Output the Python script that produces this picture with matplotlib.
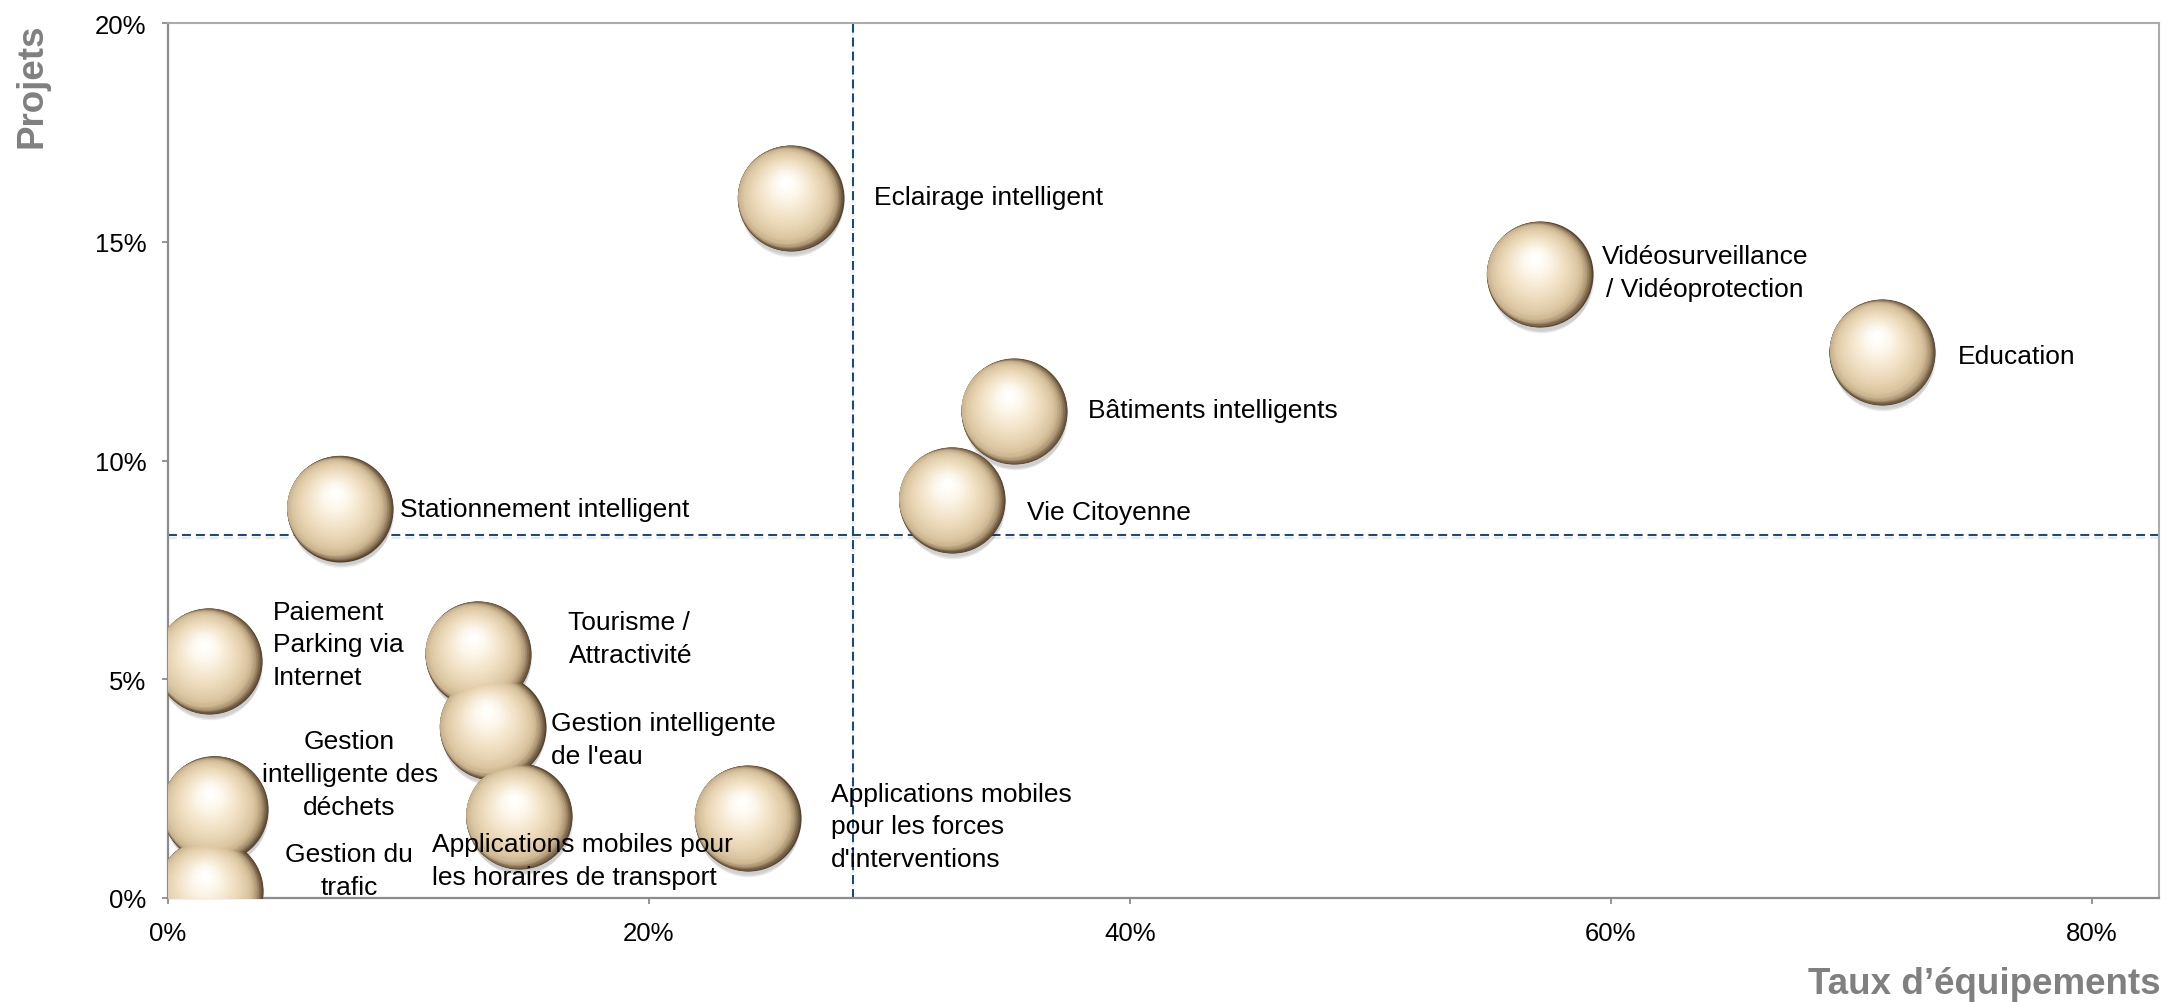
"""Bubble map: projets vs taux d'equipements."""
import matplotlib

matplotlib.use("Agg")
import matplotlib.pyplot as plt
import matplotlib.ticker as ticker
import matplotlib.transforms as transforms
import matplotlib.patheffects as pe
import numpy as np
from matplotlib.colors import LinearSegmentedColormap

plt.rcParams["font.family"] = ["Liberation Sans", "DejaVu Sans"]

LABELS = [
    "Eclairage intelligent",
    "Vidéosurveillance\n/ Vidéoprotection",
    "Education",
    "Bâtiments intelligents",
    "Vie Citoyenne",
    "Stationnement intelligent",
    "Paiement\nParking via\nInternet",
    "Tourisme /\nAttractivité",
    "Gestion intelligente\nde l'eau",
    "Gestion\nintelligente des\ndéchets",
    "Applications mobiles pour\nles horaires de transport",
    "Applications mobiles\npour les forces\nd'interventions",
    "Gestion du\ntrafic",
]
EQUIPEMENT = [0.259, 0.5705, 0.713, 0.352, 0.326, 0.0715, 0.017, 0.129,
              0.135, 0.0195, 0.146, 0.241, 0.0175]
PROJETS = [0.160, 0.1426, 0.1248, 0.1113, 0.091, 0.089, 0.0542, 0.0558,
           0.0391, 0.0204, 0.0187, 0.0183, 0.0015]
MEAN_EQUIPEMENT = 0.285
MEAN_PROJETS = 0.083

# label placement (offset in points from bubble centre, alignment)
LABEL_POS = [
    (60, 1, "left"), (119, 1, "center"), (54, -3, "left"), (53, 1, "left"),
    (54, -9, "left"), (43, 0, "left"), (46, 12, "left"), (65, 11, "left"),
    (42, -9, "left"), (97, 25, "center"), (-63, -32, "left"),
    (60, -6, "left"), (100, 15, "center"),
]

fig = plt.figure(figsize=(21.7, 10.03), dpi=100)
ax = fig.add_axes([168 / 2170, 1 - 899 / 1003, (2159 - 168) / 2170, (899 - 24) / 1003])
ax.set_xlim(0, 0.828)
ax.set_ylim(0, 0.20)

# quadrant lines
shadow = [pe.SimpleLineShadow(offset=(0, -2.5), shadow_color="gray", alpha=0.18), pe.Normal()]
ax.axvline(MEAN_EQUIPEMENT, color="#184a85", lw=1.5, ls=(0, (4.3, 2.4)),
           zorder=1, path_effects=shadow)
ax.axhline(MEAN_PROJETS, color="#184a85", lw=1.5, ls=(0, (4.3, 2.4)),
           zorder=1, path_effects=shadow)

# shaded spheres built from stacked circles
R = 38.2  # radius in points


def stack(cx, cy, rad, color, alpha=1.0, z=3):
    off = transforms.ScaledTranslation(cx / 72, cy / 72, fig.dpi_scale_trans)
    ax.scatter(EQUIPEMENT, PROJETS, s=(2 * rad) ** 2, color=color, alpha=alpha,
               linewidths=0, transform=ax.transData + off, zorder=z)


# soft drop shadow
for k in range(5):
    stack(0.5, -2.5 - 1.0 * k, R * (1.0 - 0.015 * k), "black", alpha=0.04, z=2)

rim = LinearSegmentedColormap.from_list(
    "rim", ["#55432e", "#867052", "#b09a78", "#c6b08c"])
body = LinearSegmentedColormap.from_list(
    "body",
    [(0.0, "#cbb590"), (0.1, "#dcc6a2"), (0.3, "#ead7b6"),
     (0.55, "#f5e8d0"), (0.8, "#fdf7ec"), (1.0, "#fffffc")],
)

# dark crescent on the right, circles tangent on the lit side
ua = np.array([-0.93, 0.37])
ua = ua / np.hypot(*ua)
sa = 0.10
for t in np.linspace(0, 1, 16):
    s = sa * t
    stack(ua[0] * s * R, ua[1] * s * R, R * (1 - s), rim(t))

# body towards the highlight
c0 = ua * sa * R
h = np.array([-0.1 * R, 0.3 * R])
for t in np.linspace(0, 1, 70):
    c = c0 + (h - c0) * t
    stack(c[0], c[1], R * ((1 - sa) - (1 - sa - 0.08) * t), body(t))

for x, y, label, (dx, dy, ha) in zip(EQUIPEMENT, PROJETS, LABELS, LABEL_POS):
    ax.annotate(label, (x, y), xytext=(dx, dy), textcoords="offset points",
                ha=ha, va="center", multialignment=ha, fontsize=19,
                linespacing=1.45, color="black", zorder=5, annotation_clip=False)

ax.xaxis.set_major_locator(ticker.MultipleLocator(0.2))
ax.yaxis.set_major_locator(ticker.MultipleLocator(0.05))
ax.xaxis.set_major_formatter(ticker.PercentFormatter(xmax=1, decimals=0))
ax.yaxis.set_major_formatter(ticker.PercentFormatter(xmax=1, decimals=0))
ax.tick_params(axis="both", direction="out", length=4.5, width=1.3,
               color="#8c8c8c", labelsize=18.5, labelcolor="black")
ax.tick_params(axis="y", pad=11)
ax.tick_params(axis="x", pad=12)

for side in ["left", "bottom"]:
    ax.spines[side].set_color("#8c8c8c")
    ax.spines[side].set_linewidth(1.6)
for side in ["top", "right"]:
    ax.spines[side].set_color("#ababab")
    ax.spines[side].set_linewidth(1.5)

fig.text(32 / 2170, 1 - 24 / 1003, "Projets", rotation=90, ha="center",
         va="top", fontsize=26.5, fontweight="bold", color="#808080")
fig.text(2161 / 2170, 1 - 985 / 1003, "Taux d’équipements", ha="right",
         va="center", fontsize=26.5, fontweight="bold", color="#808080")

plt.savefig("out.png", dpi=100)
